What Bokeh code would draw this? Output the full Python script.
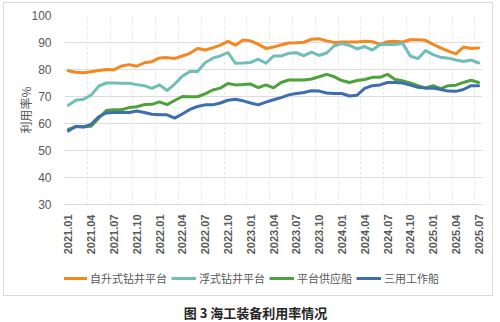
from math import pi
from bokeh.plotting import figure
from bokeh.layouts import column
from bokeh.models import (ColumnDataSource, FixedTicker, Legend, LegendItem, Label, Grid, Range1d)
from bokeh.embed import file_html
from bokeh.resources import INLINE

# ---- data ----
months = ["2021.01","2021.02","2021.03","2021.04","2021.05","2021.06","2021.07","2021.08","2021.09","2021.10","2021.11","2021.12",
          "2022.01","2022.02","2022.03","2022.04","2022.05","2022.06","2022.07","2022.08","2022.09","2022.10","2022.11","2022.12",
          "2023.01","2023.02","2023.03","2023.04","2023.05","2023.06","2023.07","2023.08","2023.09","2023.10","2023.11","2023.12",
          "2024.01","2024.02","2024.03","2024.04","2024.05","2024.06","2024.07","2024.08","2024.09","2024.10","2024.11","2024.12",
          "2025.01","2025.02","2025.03","2025.04","2025.05","2025.06","2025.07"]

jackup = [79.5, 79.0, 78.8, 79.2, 79.6, 80.0, 79.9, 81.3, 81.8, 81.2, 82.5, 82.9,
          84.3, 84.4, 84.1, 85.0, 86.0, 87.8, 87.2, 88.0, 89.0, 90.4, 89.0, 90.9,
          90.6, 89.3, 87.8, 88.3, 89.1, 89.8, 89.9, 90.1, 91.2, 91.4, 90.6, 90.0,
          90.2, 90.2, 90.2, 90.5, 90.3, 89.3, 90.3, 90.5, 90.2, 91.0, 91.0, 90.8,
          89.3, 88.0, 86.8, 85.8, 88.3, 87.8, 88.0]
floater = [66.8, 68.6, 69.0, 70.5, 73.8, 75.0, 75.0, 74.9, 74.9, 74.4, 74.0, 73.0,
           74.3, 72.2, 74.6, 77.5, 79.3, 79.3, 82.5, 84.2, 85.0, 86.3, 82.3, 82.4,
           82.6, 83.8, 82.3, 85.0, 85.0, 86.0, 86.2, 85.1, 86.4, 85.2, 86.1, 88.8,
           89.6, 88.9, 87.6, 88.5, 87.2, 89.2, 89.3, 89.3, 89.7, 85.0, 84.0, 87.0,
           85.5, 84.5, 84.2, 83.5, 83.0, 83.5, 82.4]
supply = [57.8, 58.8, 58.8, 59.0, 62.0, 64.8, 65.1, 65.1, 65.9, 66.2, 67.0, 67.1,
          68.0, 67.0, 68.5, 70.0, 69.9, 69.9, 71.0, 72.4, 73.1, 74.8, 74.3, 74.4,
          74.6, 73.3, 74.3, 73.2, 75.2, 76.1, 76.1, 76.1, 76.5, 77.3, 78.2, 77.3,
          75.9, 75.2, 75.9, 76.3, 77.1, 77.1, 78.2, 76.3, 75.8, 75.0, 74.0, 73.2,
          74.0, 72.9, 74.0, 74.2, 75.2, 76.0, 75.2]
ahts = [57.2, 59.0, 58.7, 59.7, 62.5, 63.9, 64.1, 64.1, 64.1, 64.6, 64.1, 63.4,
        63.2, 63.2, 62.0, 63.5, 65.2, 66.3, 66.9, 66.9, 67.6, 68.6, 69.0, 68.4,
        67.6, 66.9, 67.9, 68.8, 69.6, 70.6, 71.1, 71.5, 72.1, 72.0, 71.3, 71.1,
        71.1, 70.2, 70.5, 73.0, 74.0, 74.3, 75.2, 75.2, 75.0, 74.2, 73.4, 73.1,
        73.1, 72.6, 72.0, 71.9, 72.6, 74.0, 74.0]
series_names = ["自升式钻井平台", "浮式钻井平台", "平台供应船", "三用工作船"]
colors = ["#F5871F", "#6FBFB6", "#4DA23B", "#3E6EAD"]
caption_text = "图 3 海工装备利用率情况"
tick_idx = list(range(0, len(months), 3))

src = ColumnDataSource(dict(x=list(range(len(months))), a=jackup, b=floater, c=supply, d=ahts))

g = "linear-gradient(#D9D9D9,#D9D9D9)"
top_border = ", ".join([
    g + " 3px 2px / 490px 1px no-repeat",
    g + " 3px 2px / 1px 260px no-repeat",
    g + " 492px 2px / 1px 260px no-repeat",
])
bottom_border = ", ".join([
    g + " 3px 37px / 490px 1px no-repeat",
    g + " 3px 0px / 1px 38px no-repeat",
    g + " 492px 0px / 1px 38px no-repeat",
])

# ---- main chart ----
p = figure(width=500, height=258, output_backend="svg", toolbar_location=None,
           x_range=Range1d(-0.5, len(months) - 0.5), y_range=Range1d(30, 100),
           min_border_left=64, min_border_right=18, min_border_top=15, min_border_bottom=54,
           styles={"background": top_border})
p.outline_line_color = None
p.background_fill_color = "white"
p.border_fill_color = None

for col, c in zip(["a", "b", "c", "d"], colors):
    p.line("x", col, source=src, line_color=c, line_width=3, line_join="round", line_cap="round")

p.xaxis.ticker = FixedTicker(ticks=tick_idx)
p.xaxis.major_label_overrides = {i: months[i] for i in tick_idx}
p.xaxis.major_label_orientation = pi / 2
p.xaxis.major_tick_line_color = None
p.xaxis.minor_tick_line_color = None
p.xaxis.axis_line_color = "#D9D9D9"
p.xaxis.major_label_text_font = "Liberation Sans"
p.xaxis.major_label_text_font_size = "11px"
p.xaxis.major_label_text_font_style = "bold"
p.xaxis.major_label_text_color = "#595959"
p.xaxis.major_label_standoff = 4

p.yaxis.ticker = FixedTicker(ticks=[30, 40, 50, 60, 70, 80, 90, 100])
p.yaxis.axis_line_color = None
p.yaxis.major_tick_line_color = None
p.yaxis.minor_tick_line_color = None
p.yaxis.major_label_text_font = "Liberation Sans"
p.yaxis.major_label_text_font_size = "12px"
p.yaxis.major_label_text_color = "#595959"
p.yaxis.major_label_standoff = 7
p.yaxis.axis_label = "利用率%"
p.yaxis.axis_label_text_font = "Noto Sans CJK SC"
p.yaxis.axis_label_text_font_size = "12px"
p.yaxis.axis_label_text_font_style = "normal"
p.yaxis.axis_label_text_color = "#595959"
p.yaxis.axis_label_standoff = -6

p.ygrid.grid_line_color = "#DCDCDC"
p.xgrid.visible = False
p.add_layout(Grid(dimension=0, ticker=FixedTicker(ticks=[k * 3 - 0.5 for k in range(1, 19)]),
                  grid_line_color="#E8E8E8", grid_line_dash="3 2"))

# ---- legend + caption strip (frame aligned with the chart's frame by the column) ----
q = figure(width=500, height=64, output_backend="svg", toolbar_location=None,
           x_range=Range1d(64, 482), y_range=Range1d(64, 0),
           x_axis_type=None, y_axis_type=None,
           min_border_left=64, min_border_right=18, min_border_top=0, min_border_bottom=0,
           styles={"background": bottom_border})
q.outline_line_color = None
q.background_fill_color = None
q.border_fill_color = None
q.xgrid.visible = False
q.ygrid.visible = False

nan = float("nan")
key_renderers = [q.line(x=[nan], y=[nan], line_color=c, line_width=3) for c in colors]
legend = Legend(items=[LegendItem(label=n, renderers=[r]) for n, r in zip(series_names, key_renderers)],
                location=(-2, 36), orientation="horizontal", border_line_color=None,
                background_fill_alpha=0, label_text_font="Noto Sans CJK SC", label_text_font_size="11px",
                label_text_color="#595959", glyph_width=25, glyph_height=14, label_height=14,
                label_standoff=3, spacing=4, padding=0, margin=0)
q.add_layout(legend)

q.add_layout(Label(x=255, y=54, text=caption_text, text_align="center", text_baseline="middle",
                   text_font="Noto Sans CJK SC", text_font_size="13px", text_font_style="bold",
                   text_color="#262626"))

layout = column(p, q, spacing=0)
open("out.html", "w").write(file_html(layout, INLINE))
